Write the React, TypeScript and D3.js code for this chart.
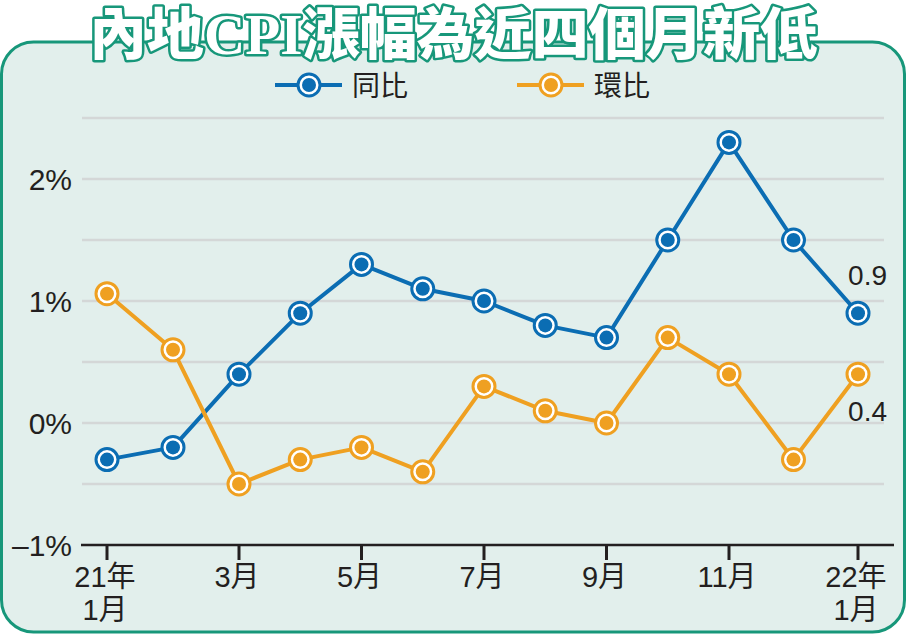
import React from "react";
import * as d3 from "d3";

// CPI 同比 / 環比, 2021年1月 – 2022年1月 (%)
const months = [0, 1, 2, 3, 4, 5, 6, 7, 8, 9, 10, 11, 12];
const yoy = [-0.3, -0.2, 0.4, 0.9, 1.3, 1.1, 1.0, 0.8, 0.7, 1.5, 2.3, 1.5, 0.9];
const mom = [1.06, 0.6, -0.5, -0.3, -0.2, -0.4, 0.3, 0.1, 0.0, 0.7, 0.4, -0.3, 0.4];

const tickMonths = [0, 2, 4, 6, 8, 10, 12];
const tickLabels = [["21年", "1月"], ["3月"], ["5月"], ["7月"], ["9月"], ["11月"], ["22年", "1月"]];
const yTicks = [2, 1, 0, -1];
const yTickLabels = ["2%", "1%", "0%", "–1%"];
const gridValues = [-0.5, 0, 0.5, 1, 1.5, 2, 2.5];

const BLUE = "#0b6db3";
const ORANGE = "#efa021";
const TEAL = "#17977a";
const INK = "#231f20";
const SANS = "'Liberation Sans', Arial, 'Noto Sans CJK TC', sans-serif";

function Marker({ x, y, color }: { x: number; y: number; color: string }) {
  return (
    <g>
      <circle cx={x} cy={y} r={11} fill="#fff" stroke={color} strokeWidth={3} />
      <circle cx={x} cy={y} r={7} fill={color} />
    </g>
  );
}

export default function App() {
  const W = 907;
  const H = 635;

  // months are not quite evenly spaced in the original artwork
  const x = d3.scaleLinear().domain([0, 2, 10, 12]).range([107, 239, 729, 858]);
  const y = d3.scaleLinear().domain([-1, 2]).range([545, 179]);

  const line = d3
    .line<number>()
    .x((_, i) => x(months[i]))
    .y(d => y(d));

  const series = [
    { name: "同比", values: yoy, color: BLUE },
    { name: "環比", values: mom, color: ORANGE },
  ];

  const last = months.length - 1;

  return (
    <div style={{ position: "absolute", left: 0, top: 0 }}>
      <svg width={W} height={H} style={{ display: "block" }}>
        {/* frame */}
        <rect x={1.5} y={42} width={W - 4} height={H - 45} rx={32} ry={32}
          fill="#e2efec" stroke={TEAL} strokeWidth={3} />

        {/* title */}
        <text x={W / 2} y={54} textAnchor="middle" fontSize={56} fontWeight={900}
          fontFamily="'Liberation Serif', 'Noto Sans CJK TC', serif"
          textLength={728} lengthAdjust="spacingAndGlyphs"
          fill="#fff" stroke={TEAL} strokeWidth={5} strokeLinejoin="round"
          style={{ paintOrder: "stroke" }}>
          內地CPI漲幅為近四個月新低
        </text>

        {/* legend */}
        {series.map((s, i) => {
          const lx = i === 0 ? 275 : 517;
          return (
            <g key={s.name}>
              <line x1={lx} x2={lx + 67} y1={85} y2={85} stroke={s.color} strokeWidth={4} />
              <Marker x={lx + 34} y={85} color={s.color} />
              <text x={lx + 77} y={96} fontSize={28} fill={INK}
                fontFamily="'Noto Sans CJK TC', sans-serif">{s.name}</text>
            </g>
          );
        })}

        {/* gridlines */}
        {gridValues.map(v => (
          <line key={v} x1={82} x2={884} y1={y(v)} y2={y(v)} stroke="#d4d7d7" strokeWidth={2.5} />
        ))}

        {/* y labels */}
        {yTicks.map((v, i) => (
          <text key={v} x={72} y={y(v) + 11} textAnchor="end" fontSize={30} fill={INK} fontFamily={SANS}>
            {yTickLabels[i]}
          </text>
        ))}

        {/* x axis */}
        <line x1={81} x2={894} y1={y(-1)} y2={y(-1)} stroke={INK} strokeWidth={2.5} />
        {tickMonths.map((m, i) => (
          <g key={m}>
            <line x1={x(m)} x2={x(m)} y1={y(-1)} y2={y(-1) + 15} stroke={INK} strokeWidth={3} />
            {tickLabels[i].map((t, j) => (
              <text key={j} x={x(m) - 2} y={587 + j * 33} textAnchor="middle" fontSize={29}
                fill={INK} fontFamily={SANS}>{t}</text>
            ))}
          </g>
        ))}

        {/* series */}
        {series.map(s => (
          <g key={s.name}>
            <path d={line(s.values) || ""} fill="none" stroke={s.color} strokeWidth={4} strokeLinejoin="round" />
            {s.values.map((v, i) => (
              <Marker key={i} x={x(months[i])} y={y(v)} color={s.color} />
            ))}
          </g>
        ))}

        {/* end values */}
        <text x={887} y={y(yoy[last]) - 28} textAnchor="end" fontSize={28} fill={INK} fontFamily={SANS}>
          {yoy[last].toFixed(1)}
        </text>
        <text x={887} y={y(mom[last]) + 47} textAnchor="end" fontSize={28} fill={INK} fontFamily={SANS}>
          {mom[last].toFixed(1)}
        </text>
      </svg>
    </div>
  );
}
